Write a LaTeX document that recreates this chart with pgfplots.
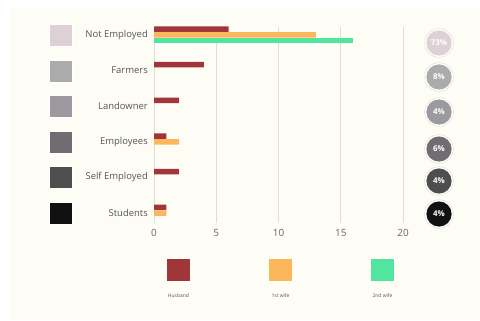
\documentclass[border=0pt]{standalone}
\usepackage{fontspec}
\setmainfont{Open Sans}
\usepackage{pgfplots}
\pgfplotsset{compat=1.18}

\definecolor{bgcream}{HTML}{FDFDF5}
\definecolor{husband}{HTML}{A1363A}
\definecolor{wifeone}{HTML}{FDB75B}
\definecolor{wifetwo}{HTML}{52E5A0}
\definecolor{txt}{HTML}{666666}
\definecolor{cattxt}{HTML}{555555}
\definecolor{gridc}{HTML}{DEDEDA}
\definecolor{cA}{HTML}{DDD1D5}
\definecolor{cB}{HTML}{ABABAB}
\definecolor{cC}{HTML}{9C999F}
\definecolor{cD}{HTML}{706D72}
\definecolor{cE}{HTML}{4E4E4E}
\definecolor{cF}{HTML}{111111}

\begin{document}
\begin{tikzpicture}[x=1bp,y=1bp]
% canvas, 480 x 320, y measured upwards
\fill[white] (0,0) rectangle (480,320);
\fill[bgcream] (10,0) rectangle (480,312);
\path[use as bounding box] (0,0) rectangle (480,320);

\begin{axis}[
  at={(154bp,97.3bp)}, anchor=south west,
  scale only axis, width=249bp, height=196bp,
  xmin=0, xmax=20, ymin=-0.27, ymax=5.23,
  xbar, bar width=5.5bp,
  separate axis lines,
  axis x line*=bottom, axis y line*=left,
  x axis line style={draw=none},
  y axis line style={draw=gridc, line width=0.8pt},
  xmajorgrids, grid style={draw=gridc, line width=0.8pt},
  xtick={0,5,10,15,20},
  ytick={0,1,2,3,4,5},
  yticklabels={Students,Self Employed,Employees,Landowner,Farmers,Not Employed},
  major tick length=0pt,
  xticklabel style={text=txt, font=\fontsize{10}{12}\selectfont, yshift=-3bp},
  yticklabel style={text=cattxt, font=\fontsize{9.5}{11}\selectfont, inner sep=0pt, xshift=-6bp},
  /pgf/number format/assume math mode=true,
  clip=false,
]
\addplot[fill=husband, draw=none, bar shift=5.8bp] coordinates {
  (6,5) (4,4) (2,3) (1,2) (2,1) (1,0)};
\addplot[fill=wifeone, draw=none, bar shift=0bp] coordinates {
  (13,5) (2,2) (1,0)};
\addplot[fill=wifetwo, draw=none, bar shift=-5.8bp] coordinates {
  (16,5)};
\end{axis}

% category swatches on the left
\foreach \c/\py in {cA/35, cB/71, cC/106, cD/142, cE/177, cF/213} {
  \fill[\c, draw=white, line width=0.6pt] (49,320-\py-11) rectangle (72,320-\py+11);
}

% share circles on the right
\foreach \c/\py/\t in {cA/43/73\%, cB/77/8\%, cC/112/4\%, cD/149/6\%, cE/181/4\%, cF/214/4\%} {
  \fill[white] (439,320-\py) circle (14.3);
  \draw[gridc, line width=0.5pt] (439,320-\py) circle (14.3);
  \fill[\c] (439,320-\py) circle (12.6);
  \node[text=white, font=\fontsize{8}{9}\selectfont\bfseries] at (439,320-\py) {\t};
}

% legend at the bottom
\foreach \c/\px/\t in {husband/178.5/Husband, wifeone/280.5/1st wife, wifetwo/382.5/2nd wife} {
  \fill[\c] (\px-11.5,320-281) rectangle (\px+11.5,320-259);
  \node[text=cattxt, font=\fontsize{5}{6}\selectfont] at (\px,320-296) {\t};
}
\end{tikzpicture}
\end{document}
